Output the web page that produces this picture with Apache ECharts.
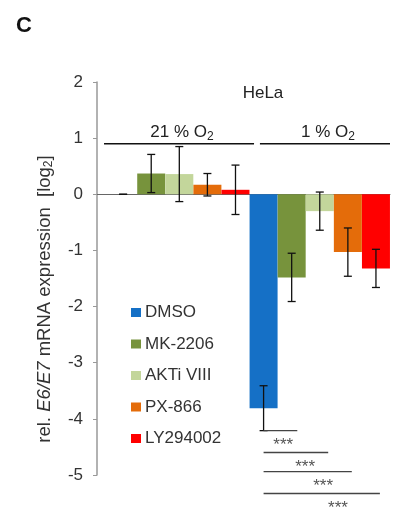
<!DOCTYPE html>
<html><head><meta charset="utf-8">
<script src="https://cdn.jsdelivr.net/npm/echarts@6/dist/echarts.min.js"></script>
<style>html,body{margin:0;padding:0;background:#fff}#c{width:398px;height:513px}</style>
</head><body><div id="c"></div>
<script>
// ---- data ----
var drugs = ['DMSO', 'MK-2206', 'AKTi VIII', 'PX-866', 'LY294002'];
var colors = ['#1570C6', '#77933C', '#C3D69B', '#E46C0A', '#FF0000'];
var conditions = ['21 % O2', '1 % O2'];
var values21 = [0.0, 0.37, 0.36, 0.17, 0.08];
var errors21 = [0.0, 0.34, 0.49, 0.20, 0.44];
var values1 = [-3.81, -1.48, -0.30, -1.03, -1.32];
var errors1 = [0.40, 0.43, 0.34, 0.43, 0.34];
var yTicks = [-5, -4, -3, -2, -1, 0, 1, 2];
// condition brackets: [xStart, xEnd, y, label]
var groupSpans = [[-0.68, 4.66, 0.9, '21 % O{s|2}'], [4.87, 9.5, 0.9, '1 % O{s|2}']];
// significance: [xStart, xEnd, y, labelX, label]
var sigLines = [
  [5.0, 6.2, -4.21, 5.7, '***'],
  [5.0, 7.3, -4.6, 6.48, '***'],
  [5.0, 8.14, -4.94, 7.12, '***'],
  [5.0, 9.14, -5.33, 7.65, '***']
];

var FONT = 'Liberation Sans, Arial, sans-serif';
var chart = echarts.init(document.getElementById('c'));

var barSeries = drugs.map(function (d, i) {
  return {
    name: d, type: 'bar', barWidth: 28, barGap: '-100%',
    itemStyle: { color: colors[i] },
    data: [[i, values21[i]], [i + 5, values1[i]]],
    z: 2
  };
});

var errData = [];
drugs.forEach(function (d, i) {
  errData.push([i, values21[i], errors21[i]]);
  errData.push([i + 5, values1[i], errors1[i]]);
});

var option = {
  animation: false,
  textStyle: { fontFamily: FONT },
  title: [
    { text: 'C', left: 11, top: 10, textStyle: { fontFamily: FONT, fontSize: 22, fontWeight: 'bold', color: '#111' } },
    { text: 'HeLa', left: 258, top: 80, textAlign: 'center', textStyle: { fontFamily: FONT, fontSize: 17, fontWeight: 'normal', color: '#222' } }
  ],
  legend: {
    orient: 'vertical', left: 126, top: 298, icon: 'rect', itemWidth: 10, itemHeight: 9,
    itemGap: 12.5, data: drugs,
    textStyle: { fontFamily: FONT, fontSize: 17, color: '#333', lineHeight: 19, padding: [0, 0, 0, -1] }
  },
  grid: { left: 97, right: 8, top: 82, bottom: 38, containLabel: false },
  xAxis: {
    type: 'value', min: -0.93, max: 9.5,
    axisLine: { show: true, onZero: true, lineStyle: { color: '#666', width: 1 } },
    axisTick: { show: false }, axisLabel: { show: false }, splitLine: { show: false }
  },
  yAxis: {
    type: 'value', min: -5, max: 2, interval: 1,
    axisLine: { show: true, onZero: false, lineStyle: { color: '#999', width: 1.5 } },
    axisTick: { show: true, length: 4, lineStyle: { color: '#999' } },
    axisLabel: { fontFamily: FONT, fontSize: 17, color: '#333', margin: 14,
      formatter: function (v) { return yTicks.indexOf(v) >= 0 ? String(v) : ''; } },
    splitLine: { show: false }
  },
  graphic: [{
    type: 'text', x: 45, y: 299, rotation: Math.PI / 2, z: 10,
    style: {
      text: '{n|rel. }{i|E6/E7}{n| mRNA expression  [log}{s|2}{n|]}',
      align: 'center', verticalAlign: 'middle',
      rich: {
        n: { fontFamily: FONT, fontSize: 18.5, fill: '#333' },
        i: { fontFamily: FONT, fontSize: 18.5, fontStyle: 'italic', fill: '#333' },
        s: { fontFamily: FONT, fontSize: 12, fill: '#333', verticalAlign: 'bottom' }
      }
    }
  }],
  series: barSeries.concat([
    {
      type: 'custom', name: 'err', z: 5, data: errData,
      renderItem: function (params, api) {
        var x = api.value(0), v = api.value(1), e = api.value(2);
        var top = api.coord([x, v + e]), bot = api.coord([x, v - e]);
        var cw = 4;
        var st = { stroke: '#111', lineWidth: 1.3 };
        return { type: 'group', children: [
          { type: 'line', shape: { x1: top[0], y1: top[1], x2: bot[0], y2: bot[1] }, style: st },
          { type: 'line', shape: { x1: top[0] - cw, y1: top[1], x2: top[0] + cw, y2: top[1] }, style: st },
          { type: 'line', shape: { x1: bot[0] - cw, y1: bot[1], x2: bot[0] + cw, y2: bot[1] }, style: st }
        ]};
      }
    },
    {
      type: 'custom', name: 'groups', z: 5, data: groupSpans, clip: false,
      renderItem: function (params, api) {
        var d = groupSpans[params.dataIndex];
        var a = api.coord([d[0], d[2]]), b = api.coord([d[1], d[2]]);
        return { type: 'group', children: [
          { type: 'line', shape: { x1: a[0], y1: a[1], x2: b[0], y2: b[1] }, style: { stroke: '#111', lineWidth: 1.5 } },
          { type: 'text', x: (a[0] + b[0]) / 2 + 3, y: a[1] - 1,
            style: { text: d[3], align: 'center', verticalAlign: 'bottom',
              rich: { s: { fontFamily: FONT, fontSize: 12, fill: '#222', padding: [9, 0, 0, 0] } },
              fontFamily: FONT, fontSize: 17, fill: '#222' } }
        ]};
      }
    },
    {
      type: 'custom', name: 'sig', z: 5, data: sigLines, clip: false,
      renderItem: function (params, api) {
        var d = sigLines[params.dataIndex];
        var a = api.coord([d[0], d[2]]), b = api.coord([d[1], d[2]]);
        var t = api.coord([d[3], d[2]]);
        return { type: 'group', children: [
          { type: 'line', shape: { x1: a[0], y1: a[1], x2: b[0], y2: b[1] }, style: { stroke: '#444', lineWidth: 1.4 } },
          { type: 'text', x: t[0], y: t[1] + 15,
            style: { text: d[4], align: 'center', verticalAlign: 'middle', fontFamily: FONT, fontSize: 17, fill: '#555' } }
        ]};
      }
    }
  ])
};
chart.setOption(option);
</script>
</body></html>
